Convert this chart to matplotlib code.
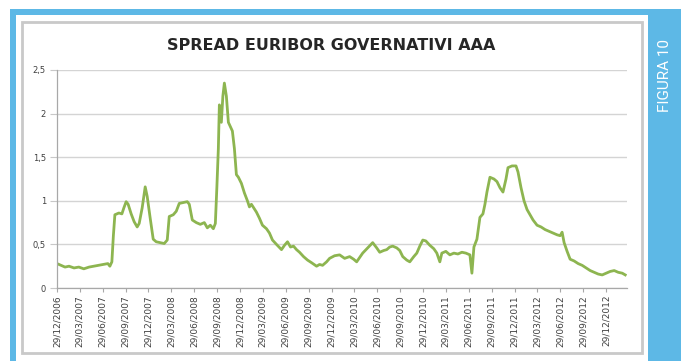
import pandas as pd
import matplotlib
matplotlib.use("Agg")
import matplotlib.pyplot as plt
from matplotlib.patches import Rectangle

# spread series (percentage points)
dates = [
    "2006-12-29", "2007-01-14", "2007-01-30", "2007-02-15", "2007-03-07", "2007-03-26",
    "2007-04-15", "2007-05-06", "2007-05-25", "2007-06-15", "2007-07-04", "2007-07-20",
    "2007-07-28", "2007-08-05", "2007-08-11", "2007-08-17", "2007-09-02", "2007-09-14",
    "2007-09-22", "2007-10-01", "2007-10-09", "2007-10-21", "2007-11-02", "2007-11-14",
    "2007-11-22", "2007-12-04", "2007-12-16", "2007-12-24",
    "2008-01-05", "2008-01-17", "2008-01-29", "2008-02-14", "2008-03-01", "2008-03-13",
    "2008-03-21", "2008-04-06", "2008-04-18", "2008-04-30", "2008-05-16", "2008-06-01",
    "2008-06-09", "2008-06-21", "2008-07-07", "2008-07-23", "2008-08-08", "2008-08-20",
    "2008-09-01", "2008-09-13", "2008-09-21", "2008-09-27", "2008-10-03", "2008-10-07",
    "2008-10-15", "2008-10-21", "2008-10-27", "2008-11-04", "2008-11-12", "2008-11-20",
    "2008-11-28", "2008-12-06", "2008-12-14", "2008-12-22",
    "2009-01-03", "2009-01-15", "2009-01-27", "2009-02-04", "2009-02-12", "2009-03-04",
    "2009-03-16", "2009-03-28", "2009-04-13", "2009-04-25", "2009-05-07", "2009-05-23",
    "2009-06-12", "2009-06-24", "2009-07-06", "2009-07-18", "2009-07-30", "2009-08-11",
    "2009-08-23", "2009-09-08", "2009-09-24", "2009-10-10", "2009-10-30", "2009-11-11",
    "2009-11-23", "2009-12-09", "2009-12-21",
    "2010-01-10", "2010-01-30", "2010-02-19", "2010-03-11", "2010-03-27", "2010-04-08",
    "2010-04-20", "2010-05-02", "2010-05-22", "2010-06-11", "2010-06-27", "2010-07-09",
    "2010-07-25", "2010-08-06", "2010-08-18", "2010-08-30", "2010-09-15", "2010-09-27",
    "2010-10-09", "2010-10-25", "2010-11-06", "2010-11-22", "2010-12-04", "2010-12-16",
    "2010-12-28",
    "2011-01-09", "2011-01-25", "2011-02-10", "2011-02-22", "2011-03-06", "2011-03-14",
    "2011-03-30", "2011-04-15", "2011-05-01", "2011-05-17", "2011-06-02", "2011-06-18",
    "2011-07-04", "2011-07-12", "2011-07-20", "2011-08-01", "2011-08-13", "2011-08-25",
    "2011-09-02", "2011-09-10", "2011-09-22", "2011-10-08", "2011-10-20", "2011-11-01",
    "2011-11-13", "2011-11-25", "2011-12-03", "2011-12-19",
    "2012-01-04", "2012-01-12", "2012-01-24", "2012-02-05", "2012-02-17", "2012-02-29",
    "2012-03-12", "2012-03-28", "2012-04-13", "2012-04-29", "2012-05-15", "2012-05-31",
    "2012-06-16", "2012-06-28", "2012-07-06", "2012-07-14", "2012-07-26", "2012-08-07",
    "2012-08-23", "2012-09-08", "2012-09-24", "2012-10-10", "2012-10-26", "2012-11-11",
    "2012-11-27", "2012-12-13", "2012-12-29",
    "2013-01-14", "2013-01-30", "2013-02-15", "2013-03-03", "2013-03-15",
]
spread = [
    0.28, 0.26, 0.24, 0.25, 0.23, 0.24,
    0.22, 0.24, 0.25, 0.26, 0.27, 0.28,
    0.25, 0.30, 0.60, 0.84, 0.86, 0.85,
    0.92, 0.99, 0.96, 0.85, 0.76, 0.70,
    0.74, 0.92, 1.16, 1.05,
    0.80, 0.56, 0.53, 0.52, 0.51, 0.55,
    0.82, 0.84, 0.88, 0.97, 0.98, 0.99,
    0.96, 0.78, 0.75, 0.73, 0.75, 0.69,
    0.72, 0.68, 0.74, 1.15, 1.60, 2.10,
    1.90, 2.20, 2.35, 2.20, 1.90, 1.85,
    1.80, 1.60, 1.30, 1.27,
    1.20, 1.09, 1.00, 0.93, 0.96, 0.87,
    0.80, 0.72, 0.68, 0.63, 0.55, 0.50,
    0.44, 0.49, 0.53, 0.47, 0.48, 0.44,
    0.41, 0.36, 0.32, 0.29, 0.25, 0.27,
    0.26, 0.30, 0.34,
    0.37, 0.38, 0.34, 0.36, 0.33, 0.30,
    0.35, 0.40, 0.46, 0.52, 0.46, 0.41,
    0.43, 0.44, 0.47, 0.48, 0.46, 0.43,
    0.36, 0.32, 0.30, 0.36, 0.40, 0.48,
    0.55,
    0.54, 0.49, 0.45, 0.40, 0.30, 0.40,
    0.42, 0.38, 0.40, 0.39, 0.41, 0.40,
    0.38, 0.17, 0.47, 0.56, 0.81, 0.85,
    0.96, 1.10, 1.27, 1.25, 1.22, 1.15,
    1.10, 1.25, 1.38, 1.40,
    1.40, 1.33, 1.15, 1.00, 0.90, 0.84,
    0.78, 0.72, 0.70, 0.67, 0.65, 0.63,
    0.61, 0.60, 0.64, 0.52, 0.42, 0.33,
    0.31, 0.28, 0.26, 0.23, 0.20, 0.18,
    0.16, 0.15, 0.17,
    0.19, 0.20, 0.18, 0.17, 0.15,
]

x_labels = [
    "29/12/2006", "29/03/2007", "29/06/2007", "29/09/2007", "29/12/2007",
    "29/03/2008", "29/06/2008", "29/09/2008", "29/12/2008", "29/03/2009",
    "29/06/2009", "29/09/2009", "29/12/2009", "29/03/2010", "29/06/2010",
    "29/09/2010", "29/12/2010", "29/03/2011", "29/06/2011", "29/09/2011",
    "29/12/2011", "29/03/2012", "29/06/2012", "29/09/2012", "29/12/2012",
]
y_ticks = [0, 0.5, 1, 1.5, 2, 2.5]
y_labels = ["0", "0,5", "1", "1,5", "2", "2,5"]

title = "SPREAD EURIBOR GOVERNATIVI AAA"
side_label = "FIGURA 10"

W, H = 688, 361
BLUE = "#5DB8E6"
GREEN = "#8DB550"


def box(x0, y0, x1, y1):
    # pixel box (top-left origin) -> figure fraction rectangle args
    return (x0 / W, 1 - y1 / H), (x1 - x0) / W, (y1 - y0) / H


fig = plt.figure(figsize=(W / 100, H / 100), dpi=100)
fig.patch.set_facecolor("white")

# blue frame, right-hand bar and white page (kept behind the axes)
xy, w, h = box(10, 9, 681, 361)
fig.add_artist(Rectangle(xy, w, h, transform=fig.transFigure, fc=BLUE,
                         ec="none", zorder=-3))
xy, w, h = box(16, 15, 648, 361)
fig.add_artist(Rectangle(xy, w, h, transform=fig.transFigure, fc="white",
                         ec="none", zorder=-2))
# chart area border
xy, w, h = box(22, 22, 642, 353)
fig.add_artist(Rectangle(xy, w, h, transform=fig.transFigure, fc="white",
                         ec="#C9C9C9", lw=2, zorder=-1))

fig.text(665 / W, 1 - 76 / H, side_label, rotation=90, color="white",
         fontsize=11, family="Roboto", ha="center", va="center")
fig.text(331 / W, 1 - 45 / H, title, fontsize=11.5, fontweight="bold",
         color="#262626", ha="center", va="center")

ax = fig.add_axes([57 / W, 1 - 288 / H, (627 - 57) / W, (288 - 70) / H])
ax.set_facecolor("none")

x = pd.to_datetime(dates)
ax.plot(x, spread, color=GREEN, lw=2, solid_joinstyle="round")

ax.set_ylim(0, 2.5)
ax.set_xlim(pd.Timestamp("2006-12-29"), pd.Timestamp("2013-03-22"))

ax.set_yticks(y_ticks)
ax.set_yticklabels(y_labels)
ticks = pd.to_datetime(x_labels, format="%d/%m/%Y")
ax.set_xticks(ticks)
ax.set_xticklabels(x_labels, rotation=90)

ax.grid(axis="y", color="#D4D4D4", lw=1)
ax.set_axisbelow(True)
for side in ("top", "right"):
    ax.spines[side].set_visible(False)
for side in ("left", "bottom"):
    ax.spines[side].set_color("#A8A8A8")
    ax.spines[side].set_linewidth(0.9)
ax.tick_params(axis="y", length=5, color="#C8C8C8", labelsize=6,
               labelcolor="#404040", pad=3)
ax.tick_params(axis="x", length=3, color="#A8A8A8", labelsize=6.5,
               labelcolor="#404040", pad=2)

fig.savefig("out.png", dpi=100)
